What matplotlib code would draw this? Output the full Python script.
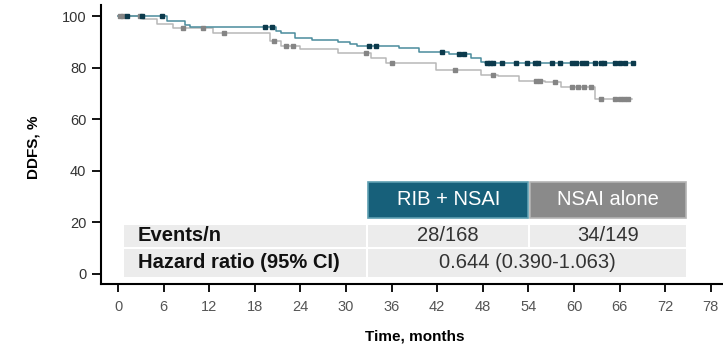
import numpy as np
import matplotlib.pyplot as plt
from matplotlib.patches import Rectangle

plt.rcParams['font.family'] = ['Liberation Sans', 'DejaVu Sans']

# Kaplan-Meier steps: time of each drop (months) and DDFS after it (%)
rib_times = [0, 6.5, 8.8, 9.5, 20.8, 21.5, 23.3, 25.5, 29.0, 30.5, 31.5,
             37.0, 39.6, 43.5, 46.5, 47.8, 48.3]
rib_surv = [100, 98.2, 96.5, 95.6, 94.2, 93.4, 91.5, 90.7, 90.0, 89.0, 88.4,
            87.5, 86.2, 85.2, 83.7, 82.3, 81.8]
rib_end = 68.0
rib_censor = [1.2, 3.1, 5.8, 19.3, 20.3, 33.0, 34.0, 42.6, 44.8, 45.5,
              48.6, 49.0, 49.4, 50.5, 52.3, 53.8, 54.9, 55.3, 57.1, 58.1,
              59.7, 60.3, 61.0, 61.6, 62.7, 63.6, 64.0, 65.4, 66.0, 66.7, 67.8]

nsai_times = [0, 3.3, 5.1, 7.2, 12.5, 20.0, 21.5, 24.0, 29.0, 33.3, 35.2,
              41.8, 47.8, 50.0, 52.7, 56.2, 58.3, 62.8]
nsai_surv = [100, 98.8, 96.9, 95.2, 93.5, 90.5, 88.5, 87.2, 85.5, 83.6, 81.7,
             79.2, 77.3, 76.6, 75.0, 74.4, 72.5, 67.8]
nsai_end = 67.6
nsai_censor = [0.2, 0.6, 2.9, 8.5, 11.2, 14.0, 20.5, 22.1, 23.0, 32.6, 36.0,
               44.4, 49.4, 55.0, 55.5, 57.5, 59.7, 60.5, 61.3, 62.2, 63.6,
               65.4, 66.0, 66.6, 67.1]

arm_labels = ['RIB + NSAI', 'NSAI alone']
events = ['28/168', '34/149']
hazard_ratio = '0.644 (0.390-1.063)'
row_labels = ['Events/n', 'Hazard ratio (95% CI)']

x_ticks = list(range(0, 79, 6))
y_ticks = [0, 20, 40, 60, 80, 100]

TEAL = '#17607a'
TEAL_LINE = '#4a8c9c'
TEAL_MARK = '#0c3a4c'
GREY_HEAD = '#8a8a8a'
GREY_LINE = '#b8b8b8'
GREY_MARK = '#858585'
ROW_BG = '#ececec'


def surv_at(times, surv, t):
    idx = np.searchsorted(times, t, side='right') - 1
    return np.asarray(surv)[idx]


def draw_arm(ax, times, surv, end, censor, line_col, mark_col, marker, ms):
    xs = list(times) + [end]
    ys = list(surv) + [surv[-1]]
    ax.step(xs, ys, where='post', color=line_col, lw=1.1, zorder=3)
    ax.plot(censor, surv_at(times, surv, censor), ls='none', marker=marker,
            ms=ms, color=mark_col, mec=mark_col, zorder=4)


fig = plt.figure(figsize=(7.23, 3.47), dpi=100)
ax = fig.add_axes([0.1397, 0.1816, 0.8603, 0.804])

draw_arm(ax, nsai_times, nsai_surv, nsai_end, nsai_censor,
         GREY_LINE, GREY_MARK, 's', 2.2)
draw_arm(ax, rib_times, rib_surv, rib_end, rib_censor,
         TEAL_LINE, TEAL_MARK, 's', 2.3)

ax.set_xlim(-2.24, 79.6)
ax.set_ylim(-3.9, 104.3)
ax.set_xticks(x_ticks)
ax.set_yticks(y_ticks)
ax.tick_params(axis='y', length=6.5, width=1.3, labelsize=10.5,
               labelcolor='#333333', pad=4)
ax.tick_params(axis='x', length=5.5, width=1.3, labelsize=10.5,
               labelcolor='#555555', pad=6)
for side in ('top', 'right'):
    ax.spines[side].set_visible(False)
for side in ('left', 'bottom'):
    ax.spines[side].set_linewidth(1.5)

fig.text(0.046, 0.575, 'DDFS, %', rotation=90, ha='center', va='center',
         fontsize=11, fontweight='bold')
fig.text(0.574, 0.029, 'Time, months', ha='center', va='center',
         fontsize=11, fontweight='bold')

# summary table drawn inside the plot area
col_x = [0.66, 32.8, 54.1, 74.9]
head_y = (21.7, 35.7)
row_y = [(10.5, 19.0), (-1.2, 9.7)]
gap = 0.15

for i, (label, colour) in enumerate(zip(arm_labels, [TEAL, GREY_HEAD])):
    x0, x1 = col_x[i + 1] + gap, col_x[i + 2] - gap
    edge = '#5f9fb2' if i == 0 else '#b4b4b4'
    ax.add_patch(Rectangle((x0, head_y[0]), x1 - x0, head_y[1] - head_y[0],
                           facecolor=colour, edgecolor=edge, lw=1.2, zorder=2))
    ax.text((x0 + x1) / 2, sum(head_y) / 2, label, ha='center', va='center',
            color='white', fontsize=14.5, zorder=5)

for r, (y0, y1) in enumerate(row_y):
    bounds = col_x if r == 0 else [col_x[0], col_x[1], col_x[3]]
    for a, b in zip(bounds[:-1], bounds[1:]):
        ax.add_patch(Rectangle((a + gap, y0), b - a - 2 * gap, y1 - y0,
                               facecolor=ROW_BG, edgecolor='none', zorder=1))
    ax.text(2.6, (y0 + y1) / 2, row_labels[r], ha='left', va='center',
            fontsize=14.5, fontweight='bold', color='#111111', zorder=5)

ev_y = sum(row_y[0]) / 2
for i, val in enumerate(events):
    ax.text((col_x[i + 1] + col_x[i + 2]) / 2, ev_y, val, ha='center',
            va='center', fontsize=14.5, color='#333333', zorder=5)
ax.text((col_x[1] + col_x[3]) / 2, sum(row_y[1]) / 2, hazard_ratio,
        ha='center', va='center', fontsize=14.5, color='#333333', zorder=5)

fig.savefig('out.png', dpi=100)
